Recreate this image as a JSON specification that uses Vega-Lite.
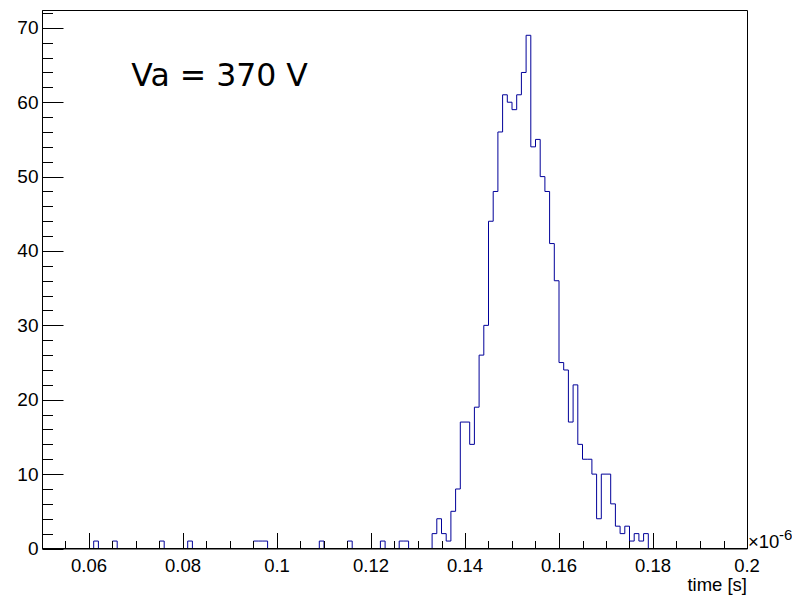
{
  "$schema": "https://vega.github.io/schema/vega-lite/v6.json",
  "width": 705,
  "height": 538.5,
  "padding": {"left": 42, "top": 10, "right": 45, "bottom": 48},
  "autosize": {"type": "none"},
  "background": "white",
  "config": {
    "view": {"stroke": "black", "strokeWidth": 1},
    "axis": {"zindex": 1, "grid": false}
  },
  "resolve": {"axis": {"x": "independent", "y": "independent"}},
  "layer": [
    {
      "data": {
        "values": [
          {"t": 0.05, "n": 0}, {"t": 0.051, "n": 0}, {"t": 0.052, "n": 0}, {"t": 0.053, "n": 0}, {"t": 0.054, "n": 0},
          {"t": 0.055, "n": 0}, {"t": 0.056, "n": 0}, {"t": 0.057, "n": 0}, {"t": 0.058, "n": 0}, {"t": 0.059, "n": 0},
          {"t": 0.06, "n": 0}, {"t": 0.061, "n": 1}, {"t": 0.062, "n": 0}, {"t": 0.063, "n": 0}, {"t": 0.064, "n": 0},
          {"t": 0.065, "n": 1}, {"t": 0.066, "n": 0}, {"t": 0.067, "n": 0}, {"t": 0.068, "n": 0}, {"t": 0.069, "n": 0},
          {"t": 0.07, "n": 0}, {"t": 0.071, "n": 0}, {"t": 0.072, "n": 0}, {"t": 0.073, "n": 0}, {"t": 0.074, "n": 0},
          {"t": 0.075, "n": 1}, {"t": 0.076, "n": 0}, {"t": 0.077, "n": 0}, {"t": 0.078, "n": 0}, {"t": 0.079, "n": 0},
          {"t": 0.08, "n": 0}, {"t": 0.081, "n": 1}, {"t": 0.082, "n": 0}, {"t": 0.083, "n": 0}, {"t": 0.084, "n": 0},
          {"t": 0.085, "n": 0}, {"t": 0.086, "n": 0}, {"t": 0.087, "n": 0}, {"t": 0.088, "n": 0}, {"t": 0.089, "n": 0},
          {"t": 0.09, "n": 0}, {"t": 0.091, "n": 0}, {"t": 0.092, "n": 0}, {"t": 0.093, "n": 0}, {"t": 0.094, "n": 0},
          {"t": 0.095, "n": 1}, {"t": 0.096, "n": 1}, {"t": 0.097, "n": 1}, {"t": 0.098, "n": 0}, {"t": 0.099, "n": 0},
          {"t": 0.1, "n": 0}, {"t": 0.101, "n": 0}, {"t": 0.102, "n": 0}, {"t": 0.103, "n": 0}, {"t": 0.104, "n": 0},
          {"t": 0.105, "n": 0}, {"t": 0.106, "n": 0}, {"t": 0.107, "n": 0}, {"t": 0.108, "n": 0}, {"t": 0.109, "n": 1},
          {"t": 0.11, "n": 0}, {"t": 0.111, "n": 0}, {"t": 0.112, "n": 0}, {"t": 0.113, "n": 0}, {"t": 0.114, "n": 0},
          {"t": 0.115, "n": 1}, {"t": 0.116, "n": 0}, {"t": 0.117, "n": 0}, {"t": 0.118, "n": 0}, {"t": 0.119, "n": 0},
          {"t": 0.12, "n": 0}, {"t": 0.121, "n": 0}, {"t": 0.122, "n": 1}, {"t": 0.123, "n": 0}, {"t": 0.124, "n": 0},
          {"t": 0.125, "n": 0}, {"t": 0.126, "n": 1}, {"t": 0.127, "n": 1}, {"t": 0.128, "n": 0}, {"t": 0.129, "n": 0},
          {"t": 0.13, "n": 0}, {"t": 0.131, "n": 0}, {"t": 0.132, "n": 0}, {"t": 0.133, "n": 2}, {"t": 0.134, "n": 4},
          {"t": 0.135, "n": 2}, {"t": 0.136, "n": 1}, {"t": 0.137, "n": 5}, {"t": 0.138, "n": 8}, {"t": 0.139, "n": 17},
          {"t": 0.14, "n": 17}, {"t": 0.141, "n": 14}, {"t": 0.142, "n": 19}, {"t": 0.143, "n": 26}, {"t": 0.144, "n": 30},
          {"t": 0.145, "n": 44}, {"t": 0.146, "n": 48}, {"t": 0.147, "n": 56}, {"t": 0.148, "n": 61}, {"t": 0.149, "n": 60},
          {"t": 0.15, "n": 59}, {"t": 0.151, "n": 61}, {"t": 0.152, "n": 64}, {"t": 0.153, "n": 69}, {"t": 0.154, "n": 54},
          {"t": 0.155, "n": 55}, {"t": 0.156, "n": 50}, {"t": 0.157, "n": 48}, {"t": 0.158, "n": 41}, {"t": 0.159, "n": 36},
          {"t": 0.16, "n": 25}, {"t": 0.161, "n": 24}, {"t": 0.162, "n": 17}, {"t": 0.163, "n": 22}, {"t": 0.164, "n": 14},
          {"t": 0.165, "n": 12}, {"t": 0.166, "n": 12}, {"t": 0.167, "n": 10}, {"t": 0.168, "n": 4}, {"t": 0.169, "n": 10},
          {"t": 0.17, "n": 10}, {"t": 0.171, "n": 6}, {"t": 0.172, "n": 3}, {"t": 0.173, "n": 2}, {"t": 0.174, "n": 3},
          {"t": 0.175, "n": 1}, {"t": 0.176, "n": 2}, {"t": 0.177, "n": 1}, {"t": 0.178, "n": 2}, {"t": 0.179, "n": 0},
          {"t": 0.18, "n": 0}, {"t": 0.181, "n": 0}, {"t": 0.182, "n": 0}, {"t": 0.183, "n": 0}, {"t": 0.184, "n": 0},
          {"t": 0.185, "n": 0}, {"t": 0.186, "n": 0}, {"t": 0.187, "n": 0}, {"t": 0.188, "n": 0}, {"t": 0.189, "n": 0},
          {"t": 0.19, "n": 0}, {"t": 0.191, "n": 0}, {"t": 0.192, "n": 0}, {"t": 0.193, "n": 0}, {"t": 0.194, "n": 0},
          {"t": 0.195, "n": 0}, {"t": 0.196, "n": 0}, {"t": 0.197, "n": 0}, {"t": 0.198, "n": 0}, {"t": 0.199, "n": 0}
        ]
      },
      "mark": {"type": "line", "interpolate": "step-after", "color": "#000099", "strokeWidth": 1},
      "encoding": {
        "x": {
          "field": "t", "type": "quantitative",
          "scale": {"domain": [0.05, 0.2], "nice": false, "zero": false},
          "axis": {
            "orient": "bottom",
            "translate": 0,
            "zindex": 2,
            "values": [0.06, 0.08, 0.1, 0.12, 0.14, 0.16, 0.18, 0.2],
            "format": ".2~f",
            "ticks": false,
            "domain": true, "domainColor": "black", "domainWidth": 1,
            "labelFont": "Liberation Sans", "labelFontSize": 18.5, "labelColor": "black",
            "labelPadding": 8, "labelFlush": false, "labelOverlap": false,
            "title": "time [s]",
            "titleFont": "Liberation Sans", "titleFontSize": 18.5, "titleFontWeight": "normal", "titleColor": "black",
            "titleAlign": "right", "titleBaseline": "alphabetic", "titleX": 705, "titleY": 42
          }
        },
        "y": {
          "field": "n", "type": "quantitative",
          "scale": {"domain": [0, 72.4], "nice": false, "zero": false},
          "axis": {
            "orient": "left",
            "zindex": 2,
            "values": [0, 10, 20, 30, 40, 50, 60, 70],
            "ticks": false,
            "domain": true, "domainColor": "black", "domainWidth": 1,
            "labelFont": "Liberation Sans", "labelFontSize": 19, "labelColor": "black",
            "labelPadding": 4, "labelFlush": false, "labelOverlap": false,
            "title": null
          }
        }
      }
    },
    {
      "data": {"values": [{}]},
      "mark": {"type": "text", "text": "Va = 370 V", "font": "DejaVu Sans", "fontSize": 31.5, "align": "left", "baseline": "alphabetic", "color": "black"},
      "encoding": {
        "x": {
          "datum": 0.069, "type": "quantitative",
          "scale": {"domain": [0.05, 0.2], "nice": false, "zero": false},
          "axis": {
            "orient": "bottom",
            "zindex": 2,
            "values": [0.06, 0.08, 0.1, 0.12, 0.14, 0.16, 0.18, 0.2],
            "tickSize": -16, "tickColor": "black", "tickWidth": 1,
            "labels": false, "domain": false, "title": null
          }
        },
        "y": {
          "datum": 62.15, "type": "quantitative",
          "scale": {"domain": [0, 72.4], "nice": false, "zero": false},
          "axis": {
            "orient": "left",
            "zindex": 2,
            "values": [0, 10, 20, 30, 40, 50, 60, 70],
            "tickSize": -21, "tickColor": "black", "tickWidth": 1,
            "labels": false, "domain": false, "title": null
          }
        }
      }
    },
    {
      "data": {"values": [{}]},
      "mark": {"type": "text", "text": "×10", "font": "Liberation Sans", "fontSize": 18.5, "align": "left", "baseline": "alphabetic", "color": "black", "dx": 1, "dy": -1},
      "encoding": {
        "x": {
          "datum": 0.2, "type": "quantitative",
          "scale": {"domain": [0.05, 0.2], "nice": false, "zero": false},
          "axis": {
            "orient": "bottom",
            "zindex": 2,
            "values": [0.055, 0.065, 0.07, 0.075, 0.085, 0.09, 0.095, 0.105, 0.11, 0.115, 0.125, 0.13, 0.135, 0.145, 0.15, 0.155, 0.165, 0.17, 0.175, 0.185, 0.19, 0.195],
            "tickSize": -8, "tickColor": "black", "tickWidth": 1,
            "labels": false, "domain": false, "title": null
          }
        },
        "y": {
          "datum": 0, "type": "quantitative",
          "scale": {"domain": [0, 72.4], "nice": false, "zero": false},
          "axis": {
            "orient": "left",
            "zindex": 2,
            "values": [2, 4, 6, 8, 12, 14, 16, 18, 22, 24, 26, 28, 32, 34, 36, 38, 42, 44, 46, 48, 52, 54, 56, 58, 62, 64, 66, 68, 72],
            "tickSize": -10.5, "tickColor": "black", "tickWidth": 1,
            "labels": false, "domain": false, "title": null
          }
        }
      }
    },
    {
      "data": {"values": [{}]},
      "mark": {"type": "text", "text": "-6", "font": "Liberation Sans", "fontSize": 15, "align": "left", "baseline": "alphabetic", "color": "black", "dx": 32, "dy": -9},
      "encoding": {
        "x": {"datum": 0.2, "type": "quantitative", "scale": {"domain": [0.05, 0.2], "nice": false, "zero": false}, "axis": null},
        "y": {"datum": 0, "type": "quantitative", "scale": {"domain": [0, 72.4], "nice": false, "zero": false}, "axis": null}
      }
    }
  ]
}
